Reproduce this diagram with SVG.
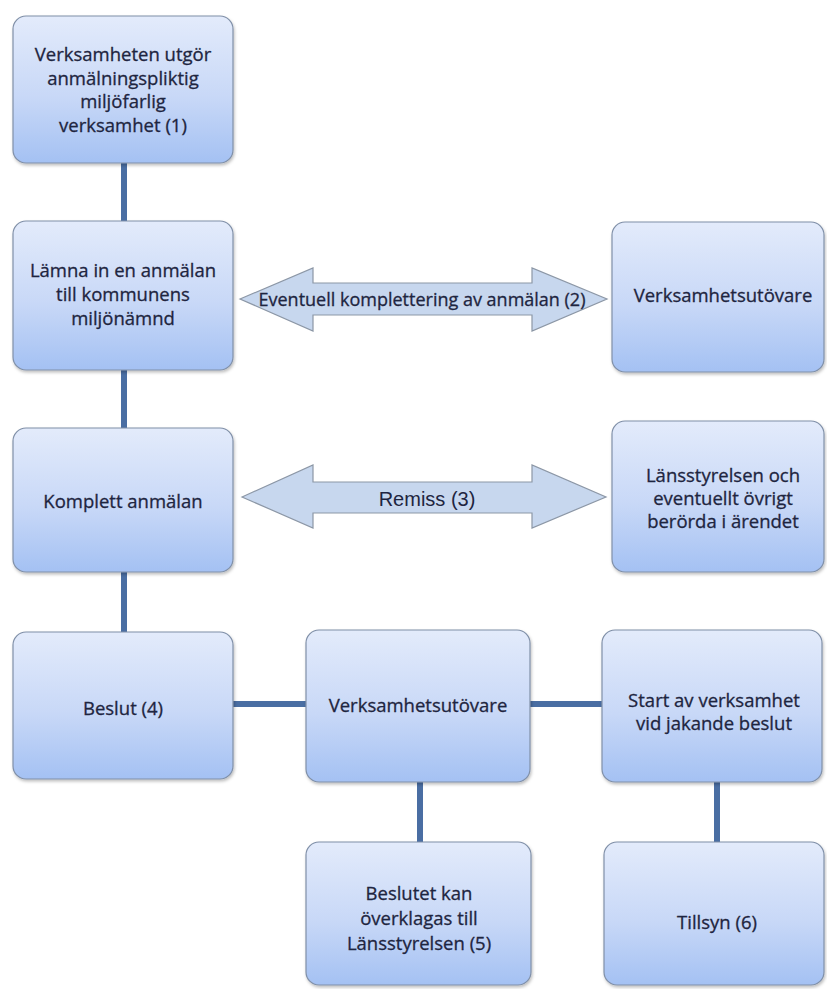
<svg xmlns="http://www.w3.org/2000/svg" width="827" height="989" viewBox="0 0 827 989">
<defs>
<linearGradient id="g" x1="0" y1="0" x2="0" y2="1">
<stop offset="0" stop-color="#e3ebfb"/>
<stop offset="0.55" stop-color="#c8d8f7"/>
<stop offset="1" stop-color="#a4c1f3"/>
</linearGradient>
<filter id="sh" x="-10%" y="-10%" width="120%" height="120%">
<feDropShadow dx="1" dy="2" stdDeviation="1.5" flood-color="#000" flood-opacity="0.25"/>
</filter>
<style>
.box{fill:url(#g);stroke:#8090a8;stroke-width:1.2;filter:url(#sh)}
.t{font-family:"Open Sans","Noto Sans",sans-serif;font-size:18.5px;fill:#1e2540;stroke:#1e2540;stroke-width:0.3;text-anchor:middle}
.c{stroke:#4a6ea3;stroke-width:6;fill:none}
.arr{fill:#c7d7ee;stroke:#8c97a6;stroke-width:1.2}
</style>
</defs>
<rect width="827" height="989" fill="#ffffff"/>
<g id="connectors">
<line class="c" x1="124" y1="163" x2="124" y2="222"/>
<line class="c" x1="124" y1="370" x2="124" y2="429"/>
<line class="c" x1="124" y1="572" x2="124" y2="633"/>
<line class="c" x1="232" y1="704" x2="307" y2="704"/>
<line class="c" x1="529" y1="704" x2="603" y2="704"/>
<line class="c" x1="420" y1="781" x2="420" y2="843"/>
<line class="c" x1="717" y1="781" x2="717" y2="843"/>
<g id="arrow1">
<polygon class="arr" points="240,299 313,268 313,283 532,283 532,268 607,299 532,331 532,315 313,315 313,331"/>
<text class="t" x="422" y="306" style="font-size:18px">Eventuell komplettering av anmälan (2)</text>
</g>
<g id="arrow2">
<polygon class="arr" points="242,497 313,465 313,482 532,482 532,465 606,497 532,528 532,513 313,513 313,528"/>
<text x="427" y="506" style="font-family:'Liberation Sans',Arial,sans-serif;font-size:20px;fill:#1e2540;text-anchor:middle">Remiss (3)</text>
</g>
</g>
<g id="n1">
<rect class="box" x="13" y="16" width="220" height="147" rx="13"/>
<text class="t" x="123" y="61">Verksamheten utgör</text>
<text class="t" x="123" y="84.5">anmälningspliktig</text>
<text class="t" x="123" y="108">miljöfarlig</text>
<text class="t" x="123" y="131.5">verksamhet (1)</text>
</g>
<g id="n2">
<rect class="box" x="13" y="221" width="220" height="149" rx="13"/>
<text class="t" x="123" y="277">Lämna in en anmälan</text>
<text class="t" x="123" y="301">till kommunens</text>
<text class="t" x="123" y="325">miljönämnd</text>
</g>
<g id="n3">
<rect class="box" x="13" y="428" width="220" height="144" rx="13"/>
<text class="t" x="123" y="508">Komplett anmälan</text>
</g>
<g id="n4">
<rect class="box" x="13" y="632" width="220" height="147" rx="13"/>
<text class="t" x="123" y="715">Beslut (4)</text>
</g>
<g id="n5">
<rect class="box" x="612" y="222" width="212" height="150" rx="13"/>
<text class="t" x="723" y="302">Verksamhetsutövare</text>
</g>
<g id="n6">
<rect class="box" x="612" y="421" width="212" height="151" rx="13"/>
<text class="t" x="723" y="482">Länsstyrelsen och</text>
<text class="t" x="723" y="505">eventuellt övrigt</text>
<text class="t" x="723" y="528">berörda i ärendet</text>
</g>
<g id="n7">
<rect class="box" x="306" y="630" width="224" height="152" rx="13"/>
<text class="t" x="418" y="712">Verksamhetsutövare</text>
</g>
<g id="n8">
<rect class="box" x="602" y="630" width="220" height="152" rx="13"/>
<text class="t" x="714" y="707">Start av verksamhet</text>
<text class="t" x="714" y="730">vid jakande beslut</text>
</g>
<g id="n9">
<rect class="box" x="306" y="842" width="225" height="143" rx="13"/>
<text class="t" x="419" y="900">Beslutet kan</text>
<text class="t" x="419" y="925">överklagas till</text>
<text class="t" x="419" y="950">Länsstyrelsen (5)</text>
</g>
<g id="n10">
<rect class="box" x="604" y="842" width="220" height="143" rx="13"/>
<text class="t" x="717" y="929">Tillsyn (6)</text>
</g>
</svg>
